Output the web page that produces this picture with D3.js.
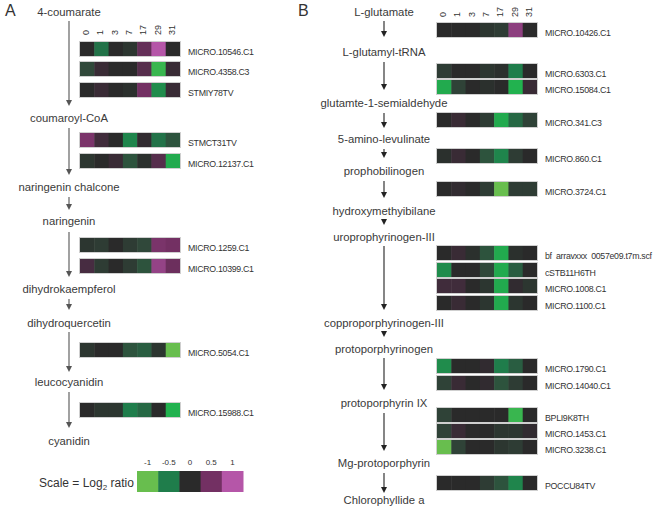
<!DOCTYPE html>
<html><head><meta charset="utf-8">
<script src="https://cdn.jsdelivr.net/npm/d3@7"></script>
<style>body{margin:0;background:#fff}svg{display:block;font-family:"Liberation Sans",Arial,sans-serif}text{white-space:pre}</style>
</head><body><svg id="c" width="661" height="509"></svg>
<script>
// ---------- DATA ----------
const timepoints = ["0","1","3","7","17","29","31"];
const compoundsA = ["4-coumarate","coumaroyl-CoA","naringenin chalcone","naringenin","dihydrokaempferol","dihydroquercetin","leucocyanidin","cyanidin"];
const genesA = ["MICRO.10546.C1","MICRO.4358.C3","STMIY78TV","STMCT31TV","MICRO.12137.C1","MICRO.1259.C1","MICRO.10399.C1","MICRO.5054.C1","MICRO.15988.C1"];
const valuesA = [
  [0,-0.45,0,-0.1,0.4,1,0],
  [-0.25,0.1,0,0,0.3,-0.9,0.1],
  [0,0.1,0,-0.05,0.5,-0.6,0.1],
  [0.55,0.15,0,-0.55,0.05,-0.45,-0.3],
  [-0.1,0,0.1,-0.3,-0.05,0.3,-0.8],
  [-0.1,-0.15,0,-0.15,-0.25,0.55,0.5],
  [0.2,-0.15,0,-0.15,-0.3,0.75,0.45],
  [-0.1,0,0,-0.3,-0.35,-0.1,-1],
  [0,-0.1,-0.1,-0.5,-0.4,0,-0.85]
];
const compoundsB = ["L-glutamate","L-glutamyl-tRNA","glutamte-1-semialdehyde","5-amino-levulinate","prophobilinogen","hydroxymethyibilane","uroprophyrinogen-III","copproporphyrinogen-III","protoporphyrinogen","protoporphyrin IX","Mg-protoporphyrin","Chlorophyllide a"];
const genesB = ["MICRO.10426.C1","MICRO.6303.C1","MICRO.15084.C1","MICRO.341.C3","MICRO.860.C1","MICRO.3724.C1","bf  arravxxx  0057e09.t7m.scf","cSTB11H6TH","MICRO.1008.C1","MICRO.1100.C1","MICRO.1790.C1","MICRO.14040.C1","BPLI9K8TH","MICRO.1453.C1","MICRO.3238.C1","POCCU84TV"];
const valuesB = [
  [0,0,0,-0.1,-0.15,0.7,0],
  [-0.15,0,0,-0.1,-0.05,-0.5,0],
  [-0.8,-0.2,0,-0.05,0,-0.85,0.1],
  [0,0.1,0,-0.15,-0.8,-0.4,-0.2],
  [-0.05,0.1,0,-0.3,-0.55,-0.15,0],
  [0,0.05,0,-0.15,-1,-0.15,-0.15],
  [0,0.1,-0.05,-0.3,-0.8,-0.05,0],
  [-0.6,0,0,-0.25,-0.8,-0.35,0],
  [0.15,0.15,0,-0.1,-0.8,0.05,-0.1],
  [0,0.1,0,-0.1,-0.8,-0.1,0],
  [-0.6,0,0,0.05,-0.5,-0.35,0],
  [-0.2,0.1,0,0.05,-0.3,-0.15,0],
  [-0.2,0,0,0,0,-0.9,0],
  [-0.2,0.1,0,0,-0.1,-0.1,0.05],
  [-1,-0.2,0,0,-0.1,-0.15,0],
  [0,0,0,-0.15,-0.3,-0.55,0]
];
const scaleTicks = [-1,-0.5,0,0.5,1];

// ---------- LAYOUT ----------
const rowTopA = [42,62,83,133,154,238,259,343,403];
const rowTopB = [23,64,80,113,149,182,246,263,279,296,359,376,408,424,440,476];
const compYA = [12,118,187,221,289,323,382,441];
const compYB = [12,52,103,139,171,211,237,323,349,403,463,500];
const arrowsA = [[21,106],[128,175],[197,210],[232,277],[299,310],[332,372],[392,428]];
const arrowsB = [[21,37],[62,90],[113,128],[149,158],[181,198],[218,225],[246,310],[331,337],[358,390],[413,451],[473,493]];
const rowH = 14;

const color = d3.scaleLinear()
  .domain([-1,-0.85,-0.5,-0.25,0,0.5,1])
  .range(["#68be4e","#22b24f","#1f7d4b","#30483a","#2a2a2a","#733063","#b556a8"]);

const svg = d3.select("#c");

function panel(opt){
  const g = svg.append("g");
  const x = d3.scaleBand().domain(timepoints).range(opt.xr).padding(0);
  g.selectAll("text.col").data(timepoints).join("text")
    .attr("transform", d => `translate(${x(d)+x.bandwidth()/2+2},${opt.colY}) rotate(-90)`)
    .attr("font-size", 9).attr("fill","#333").text(d=>d);
  opt.values.forEach((vals,i)=>{
    const y = opt.rowTop[i];
    const r = g.append("g");
    r.selectAll("rect").data(vals).join("rect")
      .attr("x",(d,j)=>x(timepoints[j])).attr("y",y)
      .attr("width",x.bandwidth()+0.5).attr("height",rowH)
      .attr("fill",d=>color(d));
    r.append("rect").attr("x",opt.xr[0]-0.5).attr("y",y-0.5)
      .attr("width",opt.xr[1]-opt.xr[0]+1).attr("height",rowH+1)
      .attr("fill","none").attr("stroke","#cfcfcf").attr("stroke-width",1);
    g.append("text").attr("x",opt.xr[1]+8).attr("y",y+rowH/2+2.5)
      .attr("dy","0.35em").attr("font-size",8.8).attr("letter-spacing",-0.3)
      .attr("fill","#333").text(opt.genes[i]);
  });
  g.selectAll("text.cmp").data(opt.compounds).join("text")
    .attr("x",opt.cx).attr("y",(d,i)=>opt.compY[i]).attr("dy","0.35em")
    .attr("text-anchor","middle").attr("font-size",11.3).attr("fill","#3a3a3a").text(d=>d);
  opt.arrows.forEach(([a,b])=>{
    if (b-a>8) g.append("line").attr("x1",opt.cx).attr("x2",opt.cx).attr("y1",a).attr("y2",b-4)
      .attr("stroke",opt.arrowColor).attr("stroke-width",1.1);
    g.append("path").attr("d",`M${opt.cx-3},${b-6}L${opt.cx+3},${b-6}L${opt.cx},${b}Z`).attr("fill",opt.arrowColor);
  });
  g.append("text").attr("x",opt.letterX).attr("y",16).attr("font-size",16).attr("fill","#333").text(opt.letter);
}

panel({xr:[80,180], colY:35, values:valuesA, rowTop:rowTopA, genes:genesA, compounds:compoundsA, compY:compYA, cx:69, arrows:arrowsA, arrowColor:"#555", letter:"A", letterX:5});
panel({xr:[437,537], colY:17, values:valuesB, rowTop:rowTopB, genes:genesB, compounds:compoundsB, compY:compYB, cx:384, arrows:arrowsB, arrowColor:"#222", letter:"B", letterX:298});

const lx = d3.scaleBand().domain(scaleTicks).range([137,243]);
const lg = svg.append("g");
lg.selectAll("rect").data(scaleTicks).join("rect")
  .attr("x",d=>lx(d)).attr("y",471).attr("width",lx.bandwidth()+0.5).attr("height",21).attr("fill",d=>color(d));
lg.selectAll("text").data(scaleTicks).join("text")
  .attr("x",d=>lx(d)+lx.bandwidth()/2).attr("y",465).attr("text-anchor","middle")
  .attr("font-size",8).attr("fill","#333").text(d=>d);
const st = svg.append("text").attr("x",39).attr("y",487).attr("font-size",12).attr("fill","#333");
st.append("tspan").text("Scale = Log");
st.append("tspan").attr("font-size",8).attr("dy",3).text("2");
st.append("tspan").attr("dy",-3).text(" ratio");
</script></body></html>
